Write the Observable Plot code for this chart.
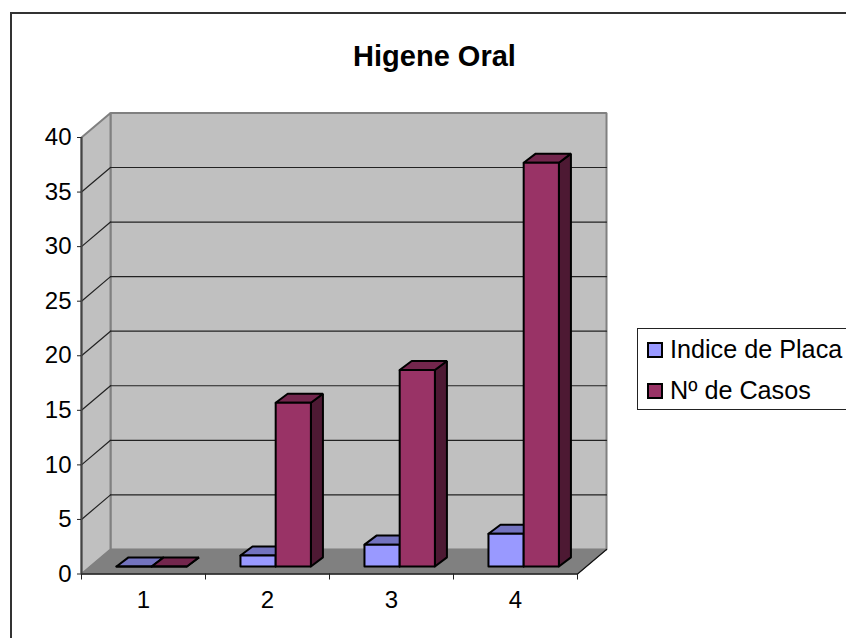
<!DOCTYPE html>
<html>
<head>
<meta charset="utf-8">
<script src="https://cdn.jsdelivr.net/npm/d3@7"></script>
<script src="https://cdn.jsdelivr.net/npm/@observablehq/plot@0.6"></script>
<style>
  html, body { margin: 0; padding: 0; background: #fff; overflow: hidden; }
  #wrap { position: relative; width: 846px; height: 638px; overflow: hidden; font-family: "Liberation Sans", Arial, sans-serif; color: #000; }
  #wrap svg { position: absolute; left: 0; top: 0; }
  #frame { position: absolute; left: 10px; top: 12px; width: 860px; height: 660px; border-left: 2px solid #333; border-top: 2px solid #333; }
  #legend { position: absolute; left: 637px; top: 328px; width: 260px; height: 80px; border: 1.5px solid #222; background: #fff; }
  .row { position: absolute; left: 9px; display: flex; align-items: center; font-size: 25.2px; line-height: 28px; white-space: nowrap; }
  .row span.label { position: relative; top: -1px; }
  .swatch { width: 12px; height: 12px; border: 2px solid #000; margin-right: 7px; box-sizing: content-box; }
  #title { position: absolute; left: 0; width: 869px; top: 39px; text-align: center; font-weight: bold; font-size: 29px; line-height: 34px; }
</style>
</head>
<body>
<div id="wrap">
  <div id="frame"></div>
  <div id="title"></div>
  <div id="legend"></div>
</div>
<script>
const chartTitle = "Higene Oral";
const categories = [1, 2, 3, 4];
const indicePlaca = [0, 1, 2, 3];
const nCasos = [0, 15, 18, 37];
const yTicks = [0, 5, 10, 15, 20, 25, 30, 35, 40];
const seriesNames = ["Indice de Placa", "Nº de Casos"];
const blueShades = ["#9999ff", "#7373bf", "#4d4d80"];
const redShades = ["#993366", "#73264d", "#4d1933"];
const wallColor = "#c0c0c0";
const floorColor = "#808080";

// 3D projection, expressed in data units
const wallDX = 0.234, wallDY = 2.25;     // depth of chart box
const barDX = 0.097, barDY = 0.83;       // depth of a column
const barBase = 0.69;                    // column base raised on the floor
const barShift = -0.218, barW = 0.284;   // first column offset and width

const xMin = 0.5, xMax = 4.5, yMax = 40;

const poly = (pts) => pts.concat([pts[0]]).map(([x, y]) => ({x, y}));
const face = (pts, fill, stroke = "#000", strokeWidth = 2) =>
  Plot.line(poly(pts), {x: "x", y: "y", fill, stroke, strokeWidth, strokeLinejoin: "miter"});

const marks = [];

// back wall, left wall, floor
marks.push(face([[xMin + wallDX, wallDY], [xMax + wallDX, wallDY], [xMax + wallDX, yMax + wallDY], [xMin + wallDX, yMax + wallDY]], wallColor, "#808080", 2));
marks.push(face([[xMin, 0], [xMin + wallDX, wallDY], [xMin + wallDX, yMax + wallDY], [xMin, yMax]], wallColor, "#808080", 2));
marks.push(face([[xMin, 0], [xMax, 0], [xMax + wallDX, wallDY], [xMin + wallDX, wallDY]], floorColor, floorColor, 1));

// gridlines on both walls
const gridTicks = yTicks.filter(t => t > 0 && t < yMax);
const gridSegs = gridTicks.flatMap(t => [
  {k: `w${t}`, x: xMin, y: t}, {k: `w${t}`, x: xMin + wallDX, y: t + wallDY},
  {k: `b${t}`, x: xMin + wallDX, y: t + wallDY}, {k: `b${t}`, x: xMax + wallDX, y: t + wallDY}
]);
marks.push(Plot.line(gridSegs, {x: "x", y: "y", z: "k", stroke: "#222", strokeWidth: 1.2}));

// front and right floor edges
marks.push(Plot.line([{x: xMax, y: 0}, {x: xMax + wallDX, y: wallDY}], {x: "x", y: "y", stroke: "#111", strokeWidth: 1.2}));
marks.push(Plot.ruleY([0], {x1: xMin, x2: xMax, stroke: "#222", strokeWidth: 1.5}));
marks.push(Plot.ruleX([xMin], {y1: 0, y2: yMax, stroke: "#444", strokeWidth: 2}));

// columns
function column(x0, value, shades) {
  const x1 = x0 + barW;
  const b = barBase, t = barBase + value;
  marks.push(face([[x1, b], [x1 + barDX, b + barDY], [x1 + barDX, t + barDY], [x1, t]], shades[2]));
  marks.push(face([[x0, t], [x1, t], [x1 + barDX, t + barDY], [x0 + barDX, t + barDY]], shades[1]));
  marks.push(face([[x0, b], [x1, b], [x1, t], [x0, t]], shades[0]));
}
categories.forEach((c, i) => {
  column(c + barShift, indicePlaca[i], blueShades);
  column(c + barShift + barW, nCasos[i], redShades);
});

// axes
marks.push(Plot.axisY(yTicks, {anchor: "left", x: xMin, tickSize: 4, tickPadding: 6, fontSize: 24, stroke: "#222", fill: "#000", label: null, tickFormat: "d"}));
marks.push(Plot.axisX(d3.range(xMin, xMax + 0.5, 1), {anchor: "bottom", y: 0, tickSize: 6, text: null, tickFormat: () => "", stroke: "#222", label: null}));
marks.push(Plot.axisX(categories, {anchor: "bottom", y: 0, tickSize: 0, tickPadding: 17, fontSize: 24, fill: "#000", label: null, tickFormat: "d"}));

const chart = Plot.plot({
  width: 846,
  height: 638,
  margin: 0,
  style: {fontFamily: '"Liberation Sans", Arial, sans-serif', background: "transparent", overflow: "visible"},
  x: {type: "linear", domain: [xMin, xMax], range: [81, 577], axis: null},
  y: {type: "linear", domain: [0, yMax], range: [573.5, 137], axis: null},
  marks
});
const wrap = document.getElementById("wrap");
wrap.insertBefore(chart, document.getElementById("title"));

document.getElementById("title").textContent = chartTitle;
const legend = document.getElementById("legend");
seriesNames.forEach((name, i) => {
  const row = document.createElement("div");
  row.className = "row";
  row.style.top = (i === 0 ? 7 : 48) + "px";
  const sw = document.createElement("span");
  sw.className = "swatch";
  sw.style.background = (i === 0 ? blueShades : redShades)[0];
  row.appendChild(sw);
  const lab = document.createElement("span");
  lab.className = "label";
  lab.textContent = name;
  row.appendChild(lab);
  legend.appendChild(row);
});
</script>
</body>
</html>
